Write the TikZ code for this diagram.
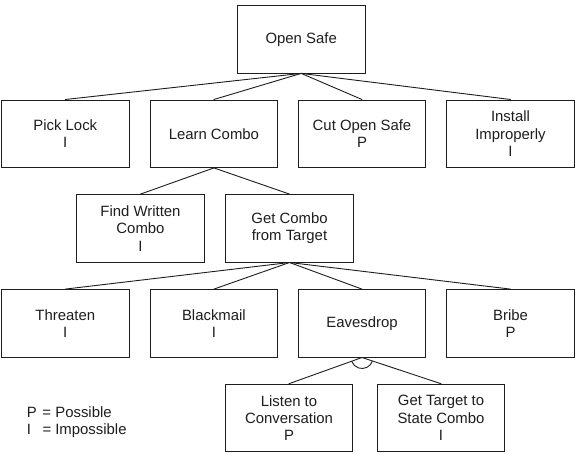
\documentclass[tikz,border=0pt]{standalone}
\usepackage{fontspec}
\setmainfont{Liberation Sans}
\usepackage{xcolor}
\usepackage{tikz}
\definecolor{ink}{HTML}{1E1E1E}
\tikzset{
  box/.style={draw=ink, line width=0.9pt, minimum width=127.5pt, minimum height=67.5pt,
    inner sep=0pt, align=center, text=ink, font=\fontsize{14.9}{17.3}\selectfont},
  link/.style={draw=ink, line width=0.9pt, line cap=round},
  andarc/.style={draw=ink, line width=0.9pt},
  legend/.style={anchor=base west, inner sep=0pt, text=ink, font=\fontsize{14.9}{17.3}\selectfont},
}

\begin{document}
\begin{tikzpicture}[x=1pt, y=-1pt]
  \useasboundingbox[fill=white] (0,0) rectangle (579,456);
  % goal
  \node[box] (safe) at (301.2,39.2) {Open Safe};
  % first level
  \node[box] (pick)    at (65.3,133.7)  {Pick Lock\\I};
  \node[box] (learn)   at (213.9,133.7) {Learn Combo};
  \node[box] (cut)     at (362,133.7)   {Cut Open Safe\\P};
  \node[box] (install) at (510.5,133.7) {Install\\Improperly\\I};
  \draw[link] (safe.south) -- (pick.north);
  \draw[link] (safe.south) -- (learn.north);
  \draw[link] (safe.south) -- (cut.north);
  \draw[link] (safe.south) -- (install.north);
  % second level
  \node[box] (find)   at (140.5,228.3) {Find Written\\Combo\\I};
  \node[box] (target) at (289.5,228.3) {Get Combo\\from Target};
  \draw[link] (learn.south) -- (find.north);
  \draw[link] (learn.south) -- (target.north);
  % third level
  \node[box] (threaten)  at (65.3,323.3)  {Threaten\\I};
  \node[box] (blackmail) at (213.9,323.3) {Blackmail\\I};
  \node[box] (eaves)     at (362,323.3)   {Eavesdrop};
  \node[box] (bribe)     at (510.5,323.3) {Bribe\\P};
  \draw[link] (target.south) -- (threaten.north);
  \draw[link] (target.south) -- (blackmail.north);
  \draw[link] (target.south) -- (eaves.north);
  \draw[link] (target.south) -- (bribe.north);
  % fourth level, both needed
  \node[box] (listen) at (289,417.9) {Listen to\\Conversation\\P};
  \node[box] (state)  at (441,417.9) {Get Target to\\State Combo\\I};
  \draw[link] (eaves.south) -- (listen.north);
  \draw[link] (eaves.south) -- (state.north);
  \draw[andarc] ([shift={(19:11)}]eaves.south) arc[start angle=19, end angle=160, radius=11];
  % key
  \node[legend] (keyP) at (26.7,417) {\makebox[15.6pt][l]{P}= Possible};
  \node[legend] (keyI) at (26.7,434) {\makebox[15.6pt][l]{I}= Impossible};
\end{tikzpicture}
\end{document}
